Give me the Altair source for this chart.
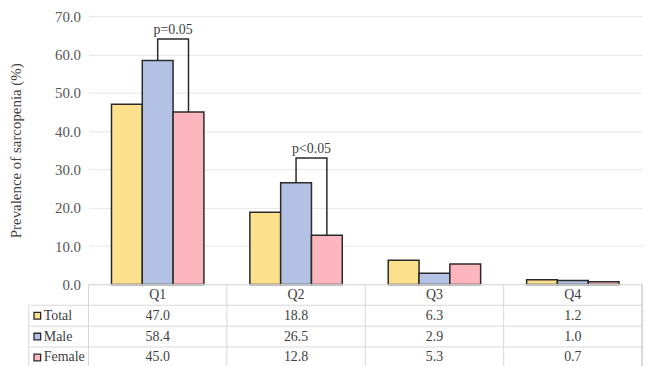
import altair as alt
import pandas as pd

# ---- data ----
quarters = ["Q1", "Q2", "Q3", "Q4"]
series = ["Total", "Male", "Female"]
total = [47.0, 18.8, 6.3, 1.2]
male = [58.4, 26.5, 2.9, 1.0]
female = [45.0, 12.8, 5.3, 0.7]
colors = ["#FDE08C", "#B3C2E4", "#FDB6BE"]
y_ticks = [0, 10, 20, 30, 40, 50, 60, 70]

bracket_quarter = ["Q1", "Q2"]
bracket_top = [64.0, 33.0]
bracket_text = ["p=0.05", "p<0.05"]
bracket_text_y = [66.3, 35.4]

rows = ["header", "Total", "Male", "Female"]

FONT = "Liberation Serif"
W, H, TH = 557, 270, 84
EDGE = "#2a2a2a"
TXT = "#404040"
LINE = "#d9d9d9"

values = {"Total": total, "Male": male, "Female": female}
bar_df = pd.DataFrame(
    [{"quarter": q, "series": s, "value": values[s][i]}
     for s in series for i, q in enumerate(quarters)]
)

br_rows = []
for q, top in zip(bracket_quarter, bracket_top):
    i = quarters.index(q)
    br_rows += [
        {"quarter": q, "series": "Male", "value": male[i], "step": 0},
        {"quarter": q, "series": "Male", "value": top, "step": 1},
        {"quarter": q, "series": "Female", "value": top, "step": 2},
        {"quarter": q, "series": "Female", "value": female[i], "step": 3},
    ]
br_df = pd.DataFrame(br_rows)
lab_df = pd.DataFrame({"quarter": bracket_quarter, "series": ["Male", "Male"],
                       "label": bracket_text, "y": bracket_text_y})

x_scale = alt.Scale(type="band", domain=quarters, paddingInner=0, paddingOuter=0)
xo_scale = alt.Scale(type="band", domain=series, paddingInner=0, paddingOuter=0.746)
y_scale = alt.Scale(domain=[0, 70], nice=False)
c_scale = alt.Scale(domain=series, range=colors)

y_axis = alt.Axis(values=y_ticks, format=".1f",
                  title="Prevalence of sarcopenia (%)",
                  grid=True, gridColor="#e6e6e6", domain=False,
                  ticks=False, tickSize=0, labelPadding=8,
                  labelOverlap=False,
                  titlePadding=31, labelFontSize=15, titleFontSize=15,
                  labelFont=FONT, titleFont=FONT, labelColor="#555555",
                  titleColor=TXT, titleFontWeight="normal")

X = alt.X("quarter:N", scale=x_scale, axis=None)
XO = alt.XOffset("series:N", scale=xo_scale)

bars = alt.Chart(bar_df).mark_bar(stroke=EDGE, strokeWidth=1.5).encode(
    x=X,
    xOffset=XO,
    y=alt.Y("value:Q", scale=y_scale, axis=y_axis),
    color=alt.Color("series:N", scale=c_scale, legend=None),
)

brackets = alt.Chart(br_df).mark_line(color=EDGE, strokeWidth=1.5).encode(
    x=X, xOffset=XO, y=alt.Y("value:Q", scale=y_scale, axis=y_axis),
    detail="quarter:N", order="step:Q",
)

plabels = alt.Chart(lab_df).mark_text(font=FONT, fontSize=14, color=TXT, dx=15.5).encode(
    x=X, xOffset=XO, y=alt.Y("y:Q", scale=y_scale, axis=y_axis), text="label:N",
)

top = alt.layer(bars, brackets, plabels).properties(width=W, height=H)

# ---- table ----
cells = [{"quarter": q, "row": "header", "text": q} for q in quarters]
for s in series:
    for i, q in enumerate(quarters):
        cells.append({"quarter": q, "row": s, "text": f"{values[s][i]:.1f}"})
cell_df = pd.DataFrame(cells)
row_df = pd.DataFrame({"row": rows})
leg_df = pd.DataFrame({"row": series, "series": series})
q_df = pd.DataFrame({"quarter": quarters})

ry_scale = alt.Scale(type="band", domain=rows, paddingInner=0, paddingOuter=0)
RY = alt.Y("row:N", scale=ry_scale, axis=None)
RY0 = alt.Y("row:N", scale=ry_scale, axis=None, bandPosition=0)

cell_text = alt.Chart(cell_df).mark_text(font=FONT, fontSize=14, color=TXT).encode(
    x=X, y=RY, text="text:N")

vlines = alt.Chart(q_df).mark_rule(color=LINE, strokeWidth=1).encode(
    x=alt.X("quarter:N", scale=x_scale, axis=None, bandPosition=0))
right_line = alt.Chart(q_df).mark_rule(color=LINE, strokeWidth=1).encode(
    x=alt.value(W), y=alt.value(0), y2=alt.value(TH))
header_line = alt.Chart(row_df[row_df.row == "header"]).mark_rule(color=LINE, strokeWidth=1).encode(
    y=RY0, x=alt.value(0), x2=alt.value(W))
row_lines = alt.Chart(row_df[row_df.row != "header"]).mark_rule(color=LINE, strokeWidth=1).encode(
    y=RY0, x=alt.value(-60), x2=alt.value(W))
left_line = alt.Chart(row_df[row_df.row == "Total"]).mark_rule(color=LINE, strokeWidth=1).encode(
    y=RY0, y2=alt.value(TH), x=alt.value(-60))

leg_sq = alt.Chart(leg_df).mark_square(size=45, stroke=EDGE, strokeWidth=1.3, opacity=1).encode(
    x=alt.value(-51.5), y=RY,
    fill=alt.Fill("series:N", scale=c_scale, legend=None))
leg_txt = alt.Chart(leg_df).mark_text(font=FONT, fontSize=14, color=TXT, align="left").encode(
    x=alt.value(-45), y=RY, text="series:N")

table = alt.layer(vlines, right_line, header_line, row_lines, left_line,
                  cell_text, leg_sq, leg_txt).properties(width=W, height=TH)

chart = alt.vconcat(top, table, spacing=0, bounds="flush").properties(
    padding={"left": 0, "top": 0, "right": 0, "bottom": 0}
).configure(font=FONT, view=alt.ViewConfig(stroke=None))

chart.save("out.html", embed_options={"renderer": "svg", "actions": False})
